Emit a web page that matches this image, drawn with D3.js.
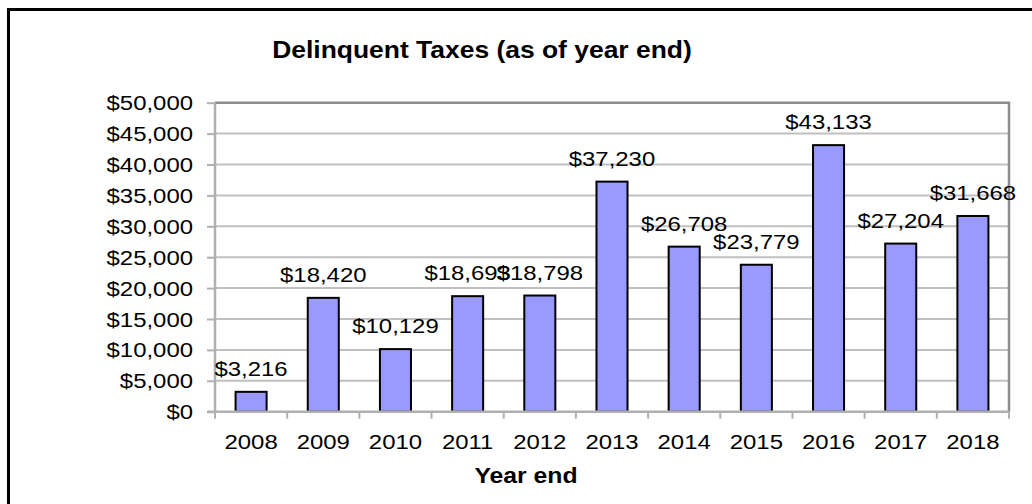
<!DOCTYPE html>
<html>
<head>
<meta charset="utf-8">
<script src="https://cdn.jsdelivr.net/npm/d3@7"></script>
<style>
  html, body { margin: 0; padding: 0; background: #fff; }
  svg { display: block; }
  text { font-family: "Liberation Sans", Arial, sans-serif; fill: #000; }
</style>
</head>
<body>
<svg id="chart" width="1032" height="504"></svg>
<script>
const categories = ["2008","2009","2010","2011","2012","2013","2014","2015","2016","2017","2018"];
const values = [3216, 18420, 10129, 18693, 18798, 37230, 26708, 23779, 43133, 27204, 31668];
const yTicks = [0, 5000, 10000, 15000, 20000, 25000, 30000, 35000, 40000, 45000, 50000];
const titleText = "Delinquent Taxes (as of year end)";
const xAxisTitle = "Year end";

const svg = d3.select("#chart");
const W = 1032, H = 504;
const plot = { left: 215, right: 1009, top: 102.7, bottom: 411.7 };
const SX = 1.14; // horizontal stretch of text as in reference

const x = d3.scaleBand().domain(categories).range([plot.left, plot.right]).padding(0);
const y = d3.scaleLinear().domain([0, 50000]).range([plot.bottom, plot.top]);
const fmt = v => "$" + d3.format(",")(v);

function stext(g, tx, ty, str, opts) {
  opts = opts || {};
  const t = g.append("text")
    .attr("transform", `translate(${tx},${ty}) scale(${opts.sx || SX},1)`)
    .attr("text-anchor", opts.anchor || "middle")
    .style("font-size", (opts.size || 21) + "px")
    .style("font-weight", opts.bold ? "bold" : "normal")
    .text(str);
  return t;
}

// outer border (extends beyond right/bottom edges)
svg.append("rect").attr("x", 8.5).attr("y", 9.5).attr("width", W + 20).attr("height", H + 20)
  .attr("fill", "none").attr("stroke", "#000").attr("stroke-width", 3);

// gridlines
svg.append("g").selectAll("line").data(yTicks.filter(d => d > 0 && d < 50000)).join("line")
  .attr("x1", plot.left).attr("x2", plot.right)
  .attr("y1", d => y(d)).attr("y2", d => y(d))
  .attr("stroke", "#c0c0c0").attr("stroke-width", 2);

// plot frame top/right
svg.append("path")
  .attr("d", `M${plot.left},${y(50000)}H${plot.right}V${plot.bottom}`)
  .attr("fill", "none").attr("stroke", "#8c8c8c").attr("stroke-width", 2.5);

// y axis
const yAxis = d3.axisLeft(y).tickValues(yTicks).tickSize(8).tickFormat("");
const yg = svg.append("g").attr("transform", `translate(${plot.left},0)`).call(yAxis);
yg.select(".domain").remove();
yg.selectAll(".tick line").attr("stroke", "#b0b0b0").attr("stroke-width", 2).attr("x2", 0).attr("x1", -8);
yg.append("line").attr("x1", 0).attr("x2", 0).attr("y1", plot.top).attr("y2", plot.bottom + 1)
  .attr("stroke", "#b0b0b0").attr("stroke-width", 2.5);
const ylab = svg.append("g");
yTicks.forEach(v => stext(ylab, 193, y(v) + 7.5, fmt(v), { anchor: "end" }));

// bars
const bw = x.bandwidth() * 0.43;
svg.append("g").selectAll("rect").data(values).join("rect")
  .attr("x", (d, i) => x(categories[i]) + x.bandwidth() / 2 - bw / 2)
  .attr("y", d => y(d))
  .attr("width", bw)
  .attr("height", d => y(0) - y(d))
  .attr("fill", "#9999ff").attr("stroke", "#000").attr("stroke-width", 2);

// x axis line and ticks
svg.append("line").attr("x1", plot.left - 8).attr("x2", plot.right).attr("y1", plot.bottom).attr("y2", plot.bottom)
  .attr("stroke", "#b0b0b0").attr("stroke-width", 2.5);
const xt = svg.append("g");
xt.selectAll("line").data(d3.range(categories.length + 1)).join("line")
  .attr("x1", i => plot.left + i * x.step()).attr("x2", i => plot.left + i * x.step())
  .attr("y1", plot.bottom).attr("y2", plot.bottom + 7)
  .attr("stroke", "#b0b0b0").attr("stroke-width", 2);

// x labels
const xl = svg.append("g");
categories.forEach(c => stext(xl, x(c) + x.bandwidth() / 2, 449, c));

// value labels
const vl = svg.append("g");
values.forEach((v, i) => stext(vl, x(categories[i]) + x.bandwidth() / 2, y(v) - 16, fmt(v)));

// title and axis title
stext(svg, 482, 58, titleText, { size: 23, bold: true, sx: 1.15 });
stext(svg, 526, 483, xAxisTitle, { size: 21.5, bold: true, sx: 1.15 });
</script>
</body>
</html>
